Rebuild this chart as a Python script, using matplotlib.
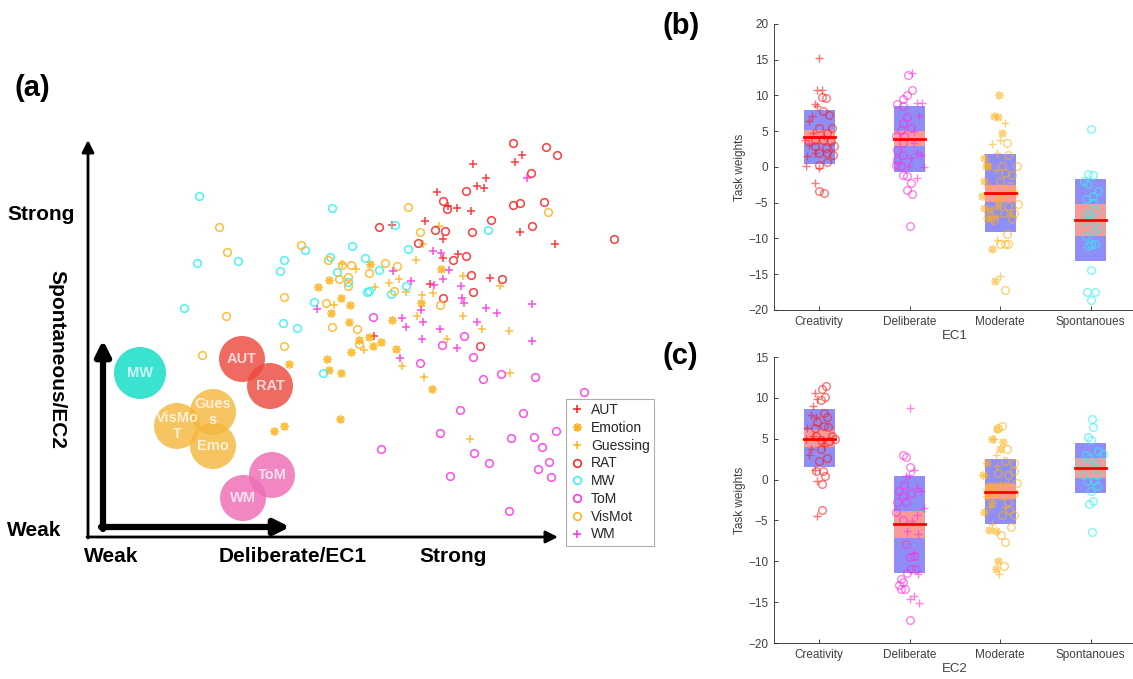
import matplotlib
matplotlib.use("Agg")
import matplotlib.pyplot as plt
from matplotlib.patches import Circle, Rectangle
from matplotlib.lines import Line2D

plt.rcParams['font.family'] = ['Liberation Sans', 'DejaVu Sans']

# ---------------- panel (a): task scatter, picture units (x right, y down)
aut_xy = [(473,164),(486,178),(477,186),(484,188),(437,192),(457,208),(471,211),(425,221),(443,239),
          (443,258),(458,254),(430,284),(490,278),(520,232),(555,244),(515,162),(522,155),(392,225),
          (374,336),(448,206)]
emotion_xy = [(318,287),(329,280),(341,298),(350,305),(331,313),(349,322),(370,264),(359,340),(369,337),
              (373,346),(381,342),(351,352),(327,359),(329,370),(341,373),(289,364),(392,320),(396,349),
              (421,303),(441,269),(432,389),(340,419),(284,426),(274,431)]
guessing_xy = [(342,264),(356,269),(334,305),(375,287),(389,283),(399,279),(406,292),(416,260),(422,295),
               (433,293),(417,316),(364,350),(402,366),(424,377),(447,339),(463,316),(463,276),(482,329),
               (500,286),(509,331),(510,373),(423,244),(439,226),(470,439)]
rat_xy = [(379,227),(418,243),(435,230),(445,231),(443,201),(447,209),(466,191),(472,232),(491,220),
          (453,260),(466,256),(471,275),(473,292),(502,279),(443,298),(480,346),(513,143),(531,173),
          (546,147),(557,155),(513,205),(520,203),(544,202),(532,226),(614,239)]
mw_xy = [(199,196),(332,208),(197,263),(238,261),(184,308),(284,260),(280,271),(305,250),(352,246),
         (330,257),(365,258),(337,272),(348,282),(379,270),(369,291),(367,292),(314,302),(283,323),
         (297,328),(323,373),(395,225),(408,249),(406,286),(391,294),(488,230)]
tom_xy = [(373,317),(464,336),(442,345),(420,363),(473,357),(483,379),(501,374),(535,377),(584,392),
          (460,410),(523,413),(440,433),(511,438),(534,437),(542,447),(556,431),(474,453),(489,463),
          (549,462),(538,469),(551,477),(450,476),(509,511),(381,449)]
vismot_xy = [(219,227),(227,252),(301,245),(328,260),(342,265),(351,265),(348,277),(339,279),(348,286),
             (369,273),(385,263),(397,266),(284,297),(226,316),(326,303),(332,327),(357,329),(284,346),
             (202,355),(359,344),(408,207),(420,232),(394,291),(440,305),(548,212)]
wm_xy = [(527,178),(433,251),(441,253),(449,270),(443,279),(461,286),(462,298),(464,303),(486,308),
         (497,313),(477,322),(393,271),(411,281),(434,285),(421,310),(402,318),(406,327),(423,322),
         (440,329),(422,339),(457,348),(400,358),(317,309),(532,304),(532,341)]

bubble_labels = ["MW", "AUT", "RAT", "VisMo\nT", "Gues\ns", "Emo", "ToM", "WM"]
bubble_x = [140, 242, 270, 177, 213, 213, 272, 243]
bubble_y = [373, 359, 386, 426, 412, 446, 475, 498]

# ---------------- panels (b), (c): (jitter, weight) per task
b_aut = [(0.00,15.2),(-0.03,10.7),(0.03,10.7),(-0.05,8.8),(-0.02,8.6),(-0.08,7.1),(-0.11,6.4),(-0.07,4.7),
         (-0.16,3.8),(-0.11,3.1),(-0.05,1.9),(-0.15,0.1),(0.00,-0.2),(-0.05,-2.3),(0.05,4.3),(-0.13,1.5)]
b_rat = [(0.03,9.8),(0.07,9.6),(0.04,7.8),(0.11,7.3),(0.00,5.4),(0.14,5.4),(0.09,4.7),(0.13,3.6),(0.16,2.9),
         (0.09,1.9),(0.00,1.9),(0.15,1.7),(0.09,0.7),(0.00,-3.3),(0.05,-3.7),(-0.05,2.9),(0.04,3.8),
         (-0.05,3.8),(0.07,2.6),(0.00,0.3)]
b_tom = [(-0.02,12.85),(0.02,10.7),(-0.03,10.1),(-0.08,9.5),(-0.14,8.8),(-0.07,8.5),(-0.03,7.0),(-0.08,6.1),
         (0.01,5.4),(-0.10,5.2),(-0.06,4.3),(-0.15,4.3),(-0.08,3.35),(-0.14,2.4),(-0.08,1.7),(-0.14,1.0),
         (-0.15,0.3),(-0.10,0.1),(-0.08,-1.1),(-0.03,-1.3),(0.01,-2.2),(-0.03,-3.2),(0.03,-3.75),(0.00,-8.2)]
b_wm = [(0.03,13.2),(0.08,8.9),(0.14,8.9),(0.10,7.1),(0.05,5.0),(0.08,1.9),(0.12,1.7),(-0.01,0.1),
        (0.16,0.0),(0.08,-1.55),(0.05,3.3),(0.01,1.2)]
b_vismot = [(0.07,3.3),(0.09,1.7),(0.18,0.2),(0.02,0.1),(0.05,-0.9),(0.13,-1.1),(0.00,-2.0),(0.11,-2.7),
            (0.15,-3.65),(0.20,-5.15),(0.09,-5.5),(0.13,-7.25),(0.04,-6.45),(0.07,-9.4),(0.05,-10.8),
            (0.00,-10.8),(0.09,-10.8),(0.05,-17.2),(0.00,-4.5),(0.15,-6.45),(-0.07,-7.4)]
b_emotion = [(-0.01,10.0),(-0.07,7.1),(-0.02,7.0),(0.02,4.8),(-0.18,1.2),(-0.16,0.1),(-0.18,-2.0),(-0.20,-4.1),
             (-0.18,-5.75),(-0.15,-7.2),(-0.09,-7.2),(-0.09,-11.5),(-0.06,-15.9),(-0.13,0.1),(-0.11,-6.0),
             (-0.02,-5.5)]
b_guessing = [(0.05,6.2),(-0.09,3.2),(0.00,3.8),(-0.04,1.9),(-0.04,-10.2),(0.00,-15.3),(-0.05,-0.4),
              (-0.11,-2.7),(0.02,-4.1),(0.11,-6.45),(-0.05,-4.6),(-0.04,-6.9)]
b_mw = [(0.00,5.3),(-0.03,-0.95),(0.03,-1.1),(-0.07,-2.0),(-0.03,-2.4),(0.08,-3.4),(0.03,-4.1),(-0.05,-4.5),
        (0.02,-5.05),(0.05,-6.2),(-0.04,-6.45),(0.00,-7.4),(-0.07,-7.75),(0.08,-8.55),(0.04,-9.0),
        (-0.05,-9.7),(0.00,-10.75),(0.05,-10.8),(-0.03,-11.0),(0.00,-14.4),(-0.04,-17.55),(0.05,-17.5),
        (0.00,-18.6),(-0.02,-6.7)]

c_aut = [(-0.05,10.6),(-0.02,9.8),(-0.07,9.0),(-0.09,7.9),(-0.04,7.7),(-0.13,6.3),(-0.07,5.3),(-0.15,5.0),
         (0.04,4.9),(-0.09,3.7),(-0.11,3.0),(-0.05,1.2),(-0.02,-0.2),(-0.03,-4.5),(0.05,4.1)]
c_rat = [(0.07,11.5),(0.03,11.1),(0.06,10.1),(0.02,9.7),(0.05,8.2),(0.09,7.7),(-0.02,7.1),(0.05,6.6),
         (0.10,6.4),(-0.04,5.3),(0.14,5.3),(0.17,5.0),(0.11,4.7),(0.02,3.7),(0.09,2.6),(0.00,2.3),
         (-0.04,1.0),(0.04,1.1),(0.06,0.4),(0.03,-0.6),(0.03,-3.7),(-0.05,6.3),(0.02,4.9)]
c_tom = [(-0.08,3.0),(-0.04,2.8),(0.00,1.5),(-0.06,-0.7),(-0.12,-1.45),(-0.08,-2.05),(-0.14,-2.8),(-0.04,-2.8),
         (-0.15,-4.0),(-0.08,-4.9),(-0.04,-7.9),(0.00,-9.5),(0.05,-9.4),(0.01,-11.0),(0.07,-11.0),
         (-0.03,-11.4),(-0.10,-12.2),(-0.07,-12.5),(-0.12,-12.9),(-0.05,-13.4),(-0.10,-13.4),(0.00,-17.2),
         (0.01,-1.6)]
c_wm = [(0.00,8.7),(0.05,1.2),(-0.01,0.5),(-0.04,0.4),(0.08,-1.0),(0.12,-1.4),(0.16,-3.5),(0.08,-4.3),
        (0.03,-5.1),(-0.03,-6.3),(0.09,-6.7),(0.05,-9.0),(0.09,-11.6),(0.05,-14.2),(0.00,-14.6),(0.10,-15.1)]
c_vismot = [(0.02,6.5),(-0.02,6.3),(0.08,3.7),(0.05,2.3),(0.15,2.0),(0.15,1.0),(0.09,0.6),(0.18,-0.4),
            (0.15,-1.65),(0.02,-2.05),(0.09,-2.7),(0.10,-3.7),(0.15,-4.3),(0.02,-4.3),(0.12,-5.85),
            (0.01,-6.75),(0.05,-7.65),(0.04,-10.6),(-0.02,0.8),(-0.05,-0.8),(0.04,-0.8)]
c_emotion = [(-0.04,6.2),(-0.09,5.0),(0.00,3.7),(0.03,4.6),(-0.15,2.0),(-0.19,0.5),(-0.15,-2.05),(-0.09,-2.9),
             (-0.18,-4.0),(-0.12,-6.2),(-0.05,-6.3),(-0.05,-10.95),(-0.02,-10.0),(-0.11,-0.8),(-0.07,-1.6)]
c_guessing = [(-0.07,5.0),(-0.05,3.0),(-0.16,0.6),(0.00,-0.6),(-0.16,-1.15),(-0.09,-5.4),(-0.01,-11.6),
              (-0.11,-3.3),(0.05,-3.3),(-0.04,1.6),(0.09,-0.4)]
c_mw = [(0.01,7.4),(0.03,6.4),(-0.03,5.2),(0.00,4.8),(0.08,3.45),(0.13,3.1),(-0.05,3.0),(-0.11,2.0),
        (0.05,2.2),(-0.02,2.6),(0.02,1.7),(-0.09,0.6),(0.07,0.6),(-0.04,-0.2),(0.04,-0.2),(0.07,-0.8),
        (0.00,-1.45),(0.03,-2.6),(-0.02,-3.0),(0.01,-6.45)]

groups = ["Creativity", "Deliberate", "Moderate", "Spontanoues"]
b_mean = [4.2, 3.95, -3.65, -7.4]
b_sem = [(3.35, 5.2), (2.9, 5.1), (-4.9, -2.5), (-9.6, -5.15)]
b_sd = [(0.45, 8.0), (-0.7, 8.5), (-9.1, 1.8), (-13.1, -1.7)]
c_mean = [5.0, -5.45, -1.5, 1.4]
c_sem = [(4.0, 6.1), (-7.1, -3.8), (-2.4, -0.55), (0.25, 2.6)]
c_sd = [(1.5, 8.6), (-11.4, 0.47), (-5.45, 2.5), (-1.65, 4.5)]

RED = '#ff1a1a'
ORANGE = '#ffb21a'
CYAN = '#2cf2f2'
MAGENTA = '#ff2ee0'
AST = (8, 2, 0)

W, H = 1133, 679
fig = plt.figure(figsize=(W / 100, H / 100), dpi=100)

# ================= panel (a)
ax = fig.add_axes([0, 0, 680 / W, 1])
ax.set_xlim(0, 680)
ax.set_ylim(H, 0)
ax.axis('off')

bub_cols = ['#0fdcc6', '#ec4a3e', '#ec4a3e', '#f4b73e', '#f4b73e', '#f4b73e', '#ee6cb4', '#ee6cb4']
for lab, bx, by, col in zip(bubble_labels, bubble_x, bubble_y, bub_cols):
    r = 26 if lab == "MW" else 23
    ax.add_patch(Circle((bx, by), r, color=col, alpha=0.82, lw=0, zorder=2))
    ax.text(bx, by, lab, ha='center', va='center', color='white', alpha=0.75,
            fontsize=10.5, fontweight='bold', linespacing=1.15, zorder=3)

scat = [
    (aut_xy, '+', RED, 'AUT'), (emotion_xy, AST, ORANGE, 'Emotion'),
    (guessing_xy, '+', ORANGE, 'Guessing'), (rat_xy, 'o', RED, 'RAT'),
    (mw_xy, 'o', CYAN, 'MW'), (tom_xy, 'o', MAGENTA, 'ToM'),
    (vismot_xy, 'o', ORANGE, 'VisMot'), (wm_xy, '+', MAGENTA, 'WM'),
]
handles = []
for pts, mk, col, lab in scat:
    xs = [p[0] for p in pts]
    ys = [p[1] for p in pts]
    if mk == 'o':
        ax.plot(xs, ys, ls='none', marker='o', ms=5.5, mfc='none', mec=col, mew=1.1, alpha=0.85, zorder=4)
        h = Line2D([], [], ls='none', marker='o', ms=5.5, mfc='none', mec=col, mew=1.1, label=lab)
    else:
        ax.plot(xs, ys, ls='none', marker=mk, ms=6, color=col, mew=1.1, alpha=0.85, zorder=4)
        h = Line2D([], [], ls='none', marker=mk, ms=6, color=col, mew=1.1, label=lab)
    handles.append(h)

leg = ax.legend(handles=handles, loc='upper left', bbox_to_anchor=(566 / 680, 1 - 399 / H),
                fontsize=10, frameon=True, fancybox=False, edgecolor='#9a9a9a',
                handlelength=1.0, handletextpad=0.5, labelspacing=0.27, borderpad=0.3,
                borderaxespad=0)
leg.get_frame().set_linewidth(0.8)
for t in leg.get_texts():
    t.set_color('#262626')

# axis arrows
ax.annotate('', xy=(88, 140), xytext=(88, 538),
            arrowprops=dict(arrowstyle='-|>', lw=2, color='k', mutation_scale=18, shrinkA=0, shrinkB=0))
ax.annotate('', xy=(558, 537), xytext=(87, 537),
            arrowprops=dict(arrowstyle='-|>', lw=2, color='k', mutation_scale=18, shrinkA=0, shrinkB=0))
ax.annotate('', xy=(103, 340), xytext=(103, 529),
            arrowprops=dict(arrowstyle='-|>', lw=4.5, color='k', mutation_scale=22, shrinkA=0, shrinkB=0))
ax.annotate('', xy=(290, 527), xytext=(101, 527),
            arrowprops=dict(arrowstyle='-|>', lw=4.5, color='k', mutation_scale=22, shrinkA=0, shrinkB=0))

ax.text(14, 88, '(a)', fontsize=21, fontweight='bold', va='center', ha='left')
ax.text(7, 214, 'Strong', fontsize=15, fontweight='bold', va='center', ha='left')
ax.text(7, 531, 'Weak', fontsize=15, fontweight='bold', va='center', ha='left')
ax.text(57, 360, 'Spontaneous/EC2', fontsize=15, fontweight='bold', va='center', ha='center',
        rotation=-90)
ax.text(84, 557, 'Weak', fontsize=15, fontweight='bold', va='center', ha='left')
ax.text(219, 557, 'Deliberate/EC1', fontsize=15, fontweight='bold', va='center', ha='left')
ax.text(419, 557, 'Strong', fontsize=15, fontweight='bold', va='center', ha='left')


# ================= panels (b), (c)
def box_panel(axp, sets, means, sems, sds, ylim, yticks, xlab):
    bw = 0.34
    for i in range(4):
        pos = i + 1
        axp.add_patch(Rectangle((pos - bw / 2, sds[i][0]), bw, sds[i][1] - sds[i][0],
                                color='#8e8ef6', lw=0, zorder=1))
        axp.add_patch(Rectangle((pos - bw / 2, sems[i][0]), bw, sems[i][1] - sems[i][0],
                                color='#f79a9a', lw=0, zorder=2))
    for pts, pos, mk, col in sets:
        xs = [pos + p[0] for p in pts]
        ys = [p[1] for p in pts]
        if mk == 'o':
            axp.plot(xs, ys, ls='none', marker='o', ms=5.5, mfc='none', mec=col, mew=1.0,
                     alpha=0.6, zorder=3)
        else:
            axp.plot(xs, ys, ls='none', marker=mk, ms=6, color=col, mew=1.0, alpha=0.6, zorder=3)
    for i in range(4):
        axp.plot([i + 1 - 0.17, i + 1 + 0.17], [means[i], means[i]], color='red', lw=2, zorder=4)
    axp.set_xlim(0.5, 4.5)
    axp.set_ylim(*ylim)
    axp.set_yticks(yticks)
    axp.set_xticks([1, 2, 3, 4])
    axp.set_xticklabels(groups)
    for s in ['top', 'right']:
        axp.spines[s].set_visible(False)
    for s in ['left', 'bottom']:
        axp.spines[s].set_color('#262626')
        axp.spines[s].set_linewidth(0.6)
    axp.tick_params(direction='in', length=3, width=0.6, labelsize=8.5, colors='#262626',
                    labelcolor='#404040', pad=4)
    axp.set_ylabel('Task weights', fontsize=8.5, color='#404040', labelpad=2)
    axp.set_xlabel(xlab, fontsize=9.5, color='#404040', labelpad=2)


axb = fig.add_axes([774 / W, 1 - 310 / H, 362 / W, 286 / H])
box_panel(axb, [(b_aut, 1, '+', RED), (b_rat, 1, 'o', RED),
                (b_tom, 2, 'o', MAGENTA), (b_wm, 2, '+', MAGENTA),
                (b_vismot, 3, 'o', ORANGE), (b_emotion, 3, AST, ORANGE), (b_guessing, 3, '+', ORANGE),
                (b_mw, 4, 'o', CYAN)],
          b_mean, b_sem, b_sd, (-20, 20), range(-20, 21, 5), 'EC1')

axc = fig.add_axes([774 / W, 1 - 643 / H, 362 / W, 286 / H])
box_panel(axc, [(c_aut, 1, '+', RED), (c_rat, 1, 'o', RED),
                (c_tom, 2, 'o', MAGENTA), (c_wm, 2, '+', MAGENTA),
                (c_vismot, 3, 'o', ORANGE), (c_emotion, 3, AST, ORANGE), (c_guessing, 3, '+', ORANGE),
                (c_mw, 4, 'o', CYAN)],
          c_mean, c_sem, c_sd, (-20, 15), range(-20, 16, 5), 'EC2')

fig.text(663 / W, 1 - 26 / H, '(b)', fontsize=21, fontweight='bold', va='center', ha='left')
fig.text(663 / W, 1 - 356 / H, '(c)', fontsize=21, fontweight='bold', va='center', ha='left')

fig.savefig('out.png', dpi=100)
